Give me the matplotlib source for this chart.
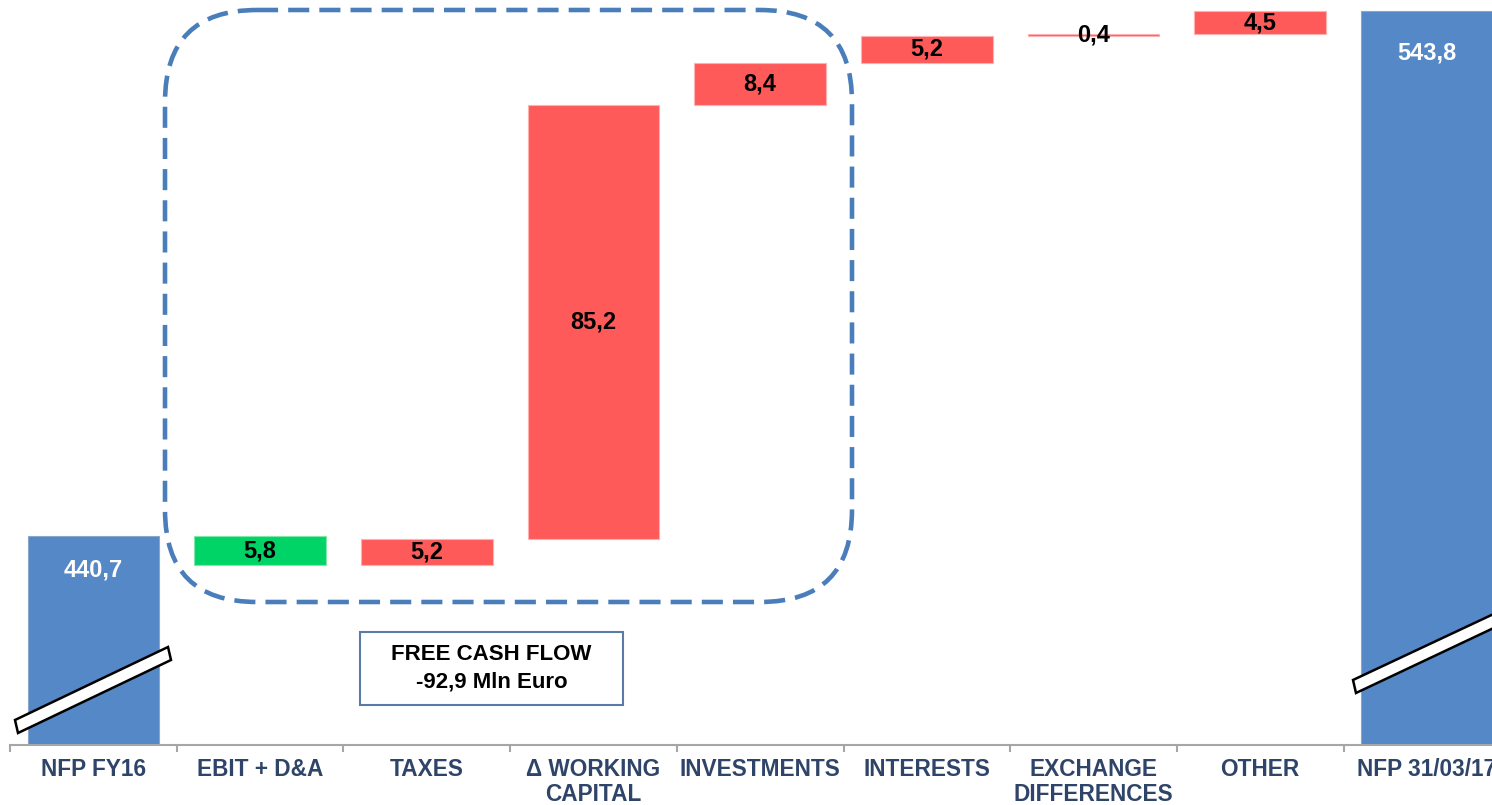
import matplotlib
matplotlib.use("Agg")
import matplotlib.pyplot as plt
from matplotlib.patches import FancyBboxPatch, Polygon, Rectangle
import numpy as np

# data
categories = ['NFP FY16', 'EBIT + D&A', 'TAXES', 'Δ WORKING\nCAPITAL', 'INVESTMENTS',
              'INTERESTS', 'EXCHANGE\nDIFFERENCES', 'OTHER', 'NFP 31/03/17']
start_value = 440.7
end_value = 543.8
changes = [-5.8, 5.2, 85.2, 8.4, 5.2, 0.4, 4.5]
box_lines = ['FREE CASH FLOW', '-92,9 Mln Euro']

blue = '#5588c6'
red = '#ff5a5a'
green = '#00d466'
label_col = '#2e4468'

plt.rcParams['font.family'] = ['Liberation Sans', 'DejaVu Sans']

fig = plt.figure(figsize=(14.92, 8.05), dpi=100)
ax = fig.add_axes([10 / 1492, 60 / 805, 1482 / 1492, 745 / 805])
ymin, ymax = 399.6, 546.0

x = np.arange(len(categories))
w = 0.79

# totals
ax.bar([x[0], x[-1]], [start_value - ymin, end_value - ymin], bottom=ymin, width=w,
       color=blue, edgecolor='#8aa6cc', linewidth=0.8, zorder=2)
for xi, v, off in [(x[0], start_value, 6.7), (x[-1], end_value, 8.2)]:
    ax.text(xi, v - off, f'{v:.1f}'.replace('.', ','), ha='center', va='center',
            color='white', fontsize=17, fontweight='bold', zorder=3)

# floating bars
level = start_value
for i, c in enumerate(changes):
    xi = x[i + 1]
    bottom = min(level, level + c)
    col = green if c < 0 else red
    ax.bar(xi, abs(c), bottom=bottom, width=w, color=col, edgecolor='#ffb0b0' if c > 0 else '#80e8a8',
           linewidth=0.8, zorder=2)
    ax.text(xi, bottom + abs(c) / 2, f'{abs(c):.1f}'.replace('.', ','),
            ha='center', va='center', color='black', fontsize=17, fontweight='bold', zorder=3)
    level += c

ax.set_xlim(-0.5, -0.5 + 1482 / 166.7)
ax.set_ylim(ymin, ymax)
for s in ['top', 'right', 'left']:
    ax.spines[s].set_visible(False)
ax.spines['bottom'].set_color('#a6a6a6')
ax.spines['bottom'].set_linewidth(1.5)
ax.set_yticks([])
ax.set_xticks(x)
ax.set_xticklabels(categories, fontsize=16.3, fontweight='bold', color=label_col, linespacing=1.12)
ax.tick_params(axis='x', which='major', length=0, pad=9)
ax.set_xticks(np.arange(-0.5, 8.0, 1.0), minor=True)
ax.tick_params(axis='x', which='minor', length=5, width=1.5, color='#a6a6a6')

# overlay in pixel coordinates for annotations
ov = fig.add_axes([0, 0, 1, 1], zorder=5)
ov.set_xlim(0, 1492)
ov.set_ylim(805, 0)
ov.axis('off')

ov.add_patch(FancyBboxPatch((165, 10), 687, 592, boxstyle='round,pad=0,rounding_size=92',
                            facecolor='none', edgecolor='#4a7ebb', linewidth=3.3,
                            linestyle=(0, (4.6, 2.2))))

ov.add_patch(Rectangle((360, 632), 263, 73, facecolor='white', edgecolor='#5a7aa8', linewidth=1.5))
ov.text(491.5, 654, box_lines[0], ha='center', va='center', fontsize=16, fontweight='bold')
ov.text(491.5, 682, box_lines[1], ha='center', va='center', fontsize=16, fontweight='bold')

ov.add_patch(Polygon([(15, 720), (168, 647), (171, 660), (18, 733)], closed=True,
                     facecolor='white', edgecolor='black', linewidth=1.8))
ov.add_patch(Polygon([(1353, 680), (1500, 611), (1500, 625), (1356, 693)], closed=True,
                     facecolor='white', edgecolor='black', linewidth=1.8))

fig.savefig('out.png', dpi=100)
